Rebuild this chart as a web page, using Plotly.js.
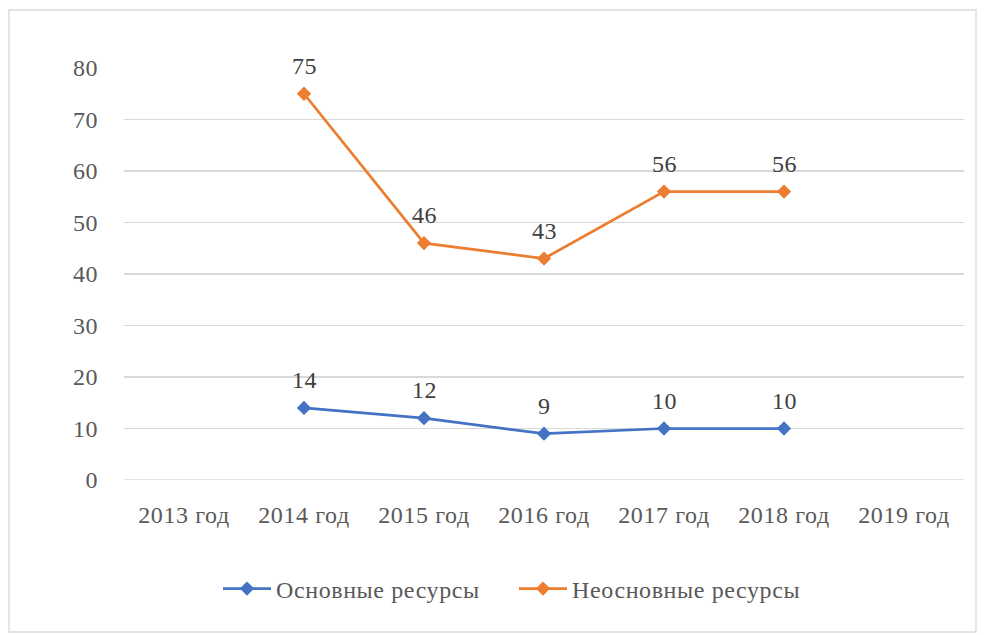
<!DOCTYPE html>
<html><head><meta charset="utf-8">
<script src="https://cdn.plot.ly/plotly-3.0.1.min.js"></script>
<style>body{margin:0;background:#fff}#c{width:985px;height:635px}text{letter-spacing:0.6px}</style>
</head><body><div id="c"></div>
<script>
const years = ["2013 год","2014 год","2015 год","2016 год","2017 год","2018 год","2019 год"];
const mainYears = ["2014 год","2015 год","2016 год","2017 год","2018 год"];
const mainRes = [14, 12, 9, 10, 10];
const nonMainRes = [75, 46, 43, 56, 56];
const seriesNames = ["Основные ресурсы","Неосновные ресурсы"];

const L=124,R=964,T=68,B=480;
const W=R-L,H=B-T;
const FAM="Liberation Serif";
const font = {family:FAM, size:24, color:"#595959"};
function tr(y, v, name, color){
  return {x:y, y:v, name:name, type:"scatter", mode:"lines+markers",
    line:{color:color,width:2.75}, marker:{symbol:"diamond",size:11,color:color},
    cliponaxis:false};
}
const data=[tr(mainYears,mainRes,seriesNames[0],"#4472c4"),
            tr(mainYears,nonMainRes,seriesNames[1],"#ed7d31")];
const annotations=[];
[[mainYears,mainRes],[mainYears,nonMainRes]].forEach(([xs,vs])=>{
  xs.forEach((x,i)=>annotations.push({x:x,y:vs[i],xref:"x",yref:"y",text:String(vs[i]),
    showarrow:false,yshift:28,yanchor:"middle",font:{family:FAM,size:24,color:"#404040"}}));
});
const layout={
  width:985,height:635,margin:{l:L,r:985-R,t:T,b:635-B},
  paper_bgcolor:"#fff",plot_bgcolor:"#fff",font:font,
  showlegend:true,
  legend:{orientation:"h",x:0.5-30/W,xanchor:"center",y:(B-589)/H,yanchor:"middle",
    font:{family:FAM,size:24,color:"#595959"},itemwidth:48,entrywidth:233,tracegroupgap:0},
  xaxis:{type:"category",categoryorder:"array",categoryarray:years,range:[-0.5,6.5],
    showgrid:false,zeroline:false,showline:false,ticks:"outside",ticklen:13,tickcolor:"rgba(0,0,0,0)",
    tickfont:font,fixedrange:true},
  yaxis:{range:[0,80],dtick:10,tick0:0,showgrid:true,gridcolor:"#d9d9d9",gridwidth:1.3,
    zeroline:false,showline:false,ticks:"outside",ticklen:20,tickcolor:"rgba(0,0,0,0)",
    tickfont:font,fixedrange:true},
  annotations:annotations,
  shapes:[{type:"line",xref:"paper",yref:"y",x0:0,x1:1,y0:0,y1:0,line:{color:"#d9d9d9",width:1.3},layer:"below"},
    {type:"rect",xref:"paper",yref:"paper",x0:(9-L)/W,x1:(976-L)/W,y0:(B-632)/H,y1:(B-10)/H,
    line:{color:"#d9d9d9",width:1.3},fillcolor:"rgba(0,0,0,0)"}]
};
Plotly.newPlot("c",data,layout,{displayModeBar:false,staticPlot:true});
</script></body></html>
